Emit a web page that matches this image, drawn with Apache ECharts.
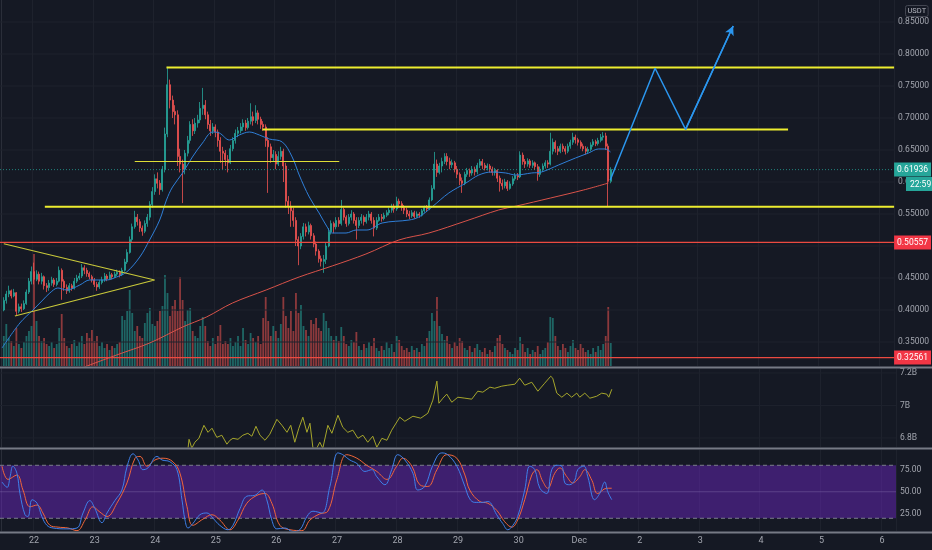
<!DOCTYPE html>
<html><head><meta charset="utf-8">
<script src="https://cdn.jsdelivr.net/npm/echarts@6/dist/echarts.min.js"></script>
<style>html,body{margin:0;padding:0;background:#151924;}#c{width:932px;height:550px;}</style>
</head><body><div id="c"></div>
<script>
// ---- time axis (hourly bars; index 0 = Nov 21 11:00) ----
const dayLabels = ['22','23','24','25','26','27','28','29','30','Dec','2','3','4','5','6'];
const firstDayIndex = 13;
const hoursPerDay = 24;
const categoryCount = 355;

// ---- candles (hourly), first candle at index 1 ----
const candleStart = 1;
const firstOpen = 0.400;
const candleClose = [
0.415,0.425,0.43,0.422,0.427,0.398,0.405,0.402,0.41,0.428,
0.445,0.46,0.448,0.456,0.445,0.452,0.438,0.435,0.442,0.447,
0.44,0.445,0.462,0.445,0.435,0.43,0.438,0.434,0.445,0.45,
0.453,0.466,0.462,0.457,0.452,0.447,0.44,0.436,0.443,0.447,
0.453,0.449,0.455,0.452,0.456,0.459,0.455,0.462,0.475,0.49,
0.51,0.53,0.545,0.538,0.528,0.523,0.535,0.545,0.565,0.585,
0.605,0.598,0.588,0.62,0.675,0.752,0.728,0.71,0.705,0.64,
0.628,0.62,0.645,0.665,0.69,0.68,0.692,0.697,0.715,0.72,
0.705,0.69,0.68,0.686,0.678,0.665,0.648,0.645,0.635,0.63,
0.652,0.665,0.676,0.68,0.686,0.692,0.685,0.695,0.702,0.696,
0.708,0.698,0.69,0.686,0.665,0.655,0.638,0.643,0.628,0.64,
0.648,0.625,0.57,0.562,0.555,0.54,0.51,0.5,0.515,0.53,
0.522,0.532,0.516,0.503,0.492,0.48,0.476,0.479,0.5,0.522,
0.535,0.53,0.54,0.535,0.557,0.545,0.535,0.545,0.55,0.54,
0.532,0.54,0.545,0.538,0.545,0.55,0.54,0.528,0.54,0.545,
0.543,0.548,0.552,0.556,0.562,0.558,0.57,0.566,0.56,0.556,
0.55,0.547,0.552,0.546,0.55,0.548,0.555,0.56,0.558,0.572,
0.59,0.628,0.615,0.625,0.632,0.64,0.632,0.627,0.63,0.62,
0.612,0.602,0.598,0.612,0.618,0.614,0.62,0.616,0.626,0.632,
0.626,0.622,0.625,0.62,0.615,0.618,0.606,0.598,0.594,0.6,
0.59,0.597,0.605,0.61,0.608,0.642,0.632,0.628,0.633,0.626,
0.63,0.624,0.612,0.62,0.625,0.63,0.628,0.648,0.662,0.652,
0.648,0.656,0.652,0.648,0.656,0.662,0.67,0.666,0.662,0.656,
0.652,0.648,0.651,0.658,0.663,0.66,0.665,0.67,0.672,0.656,
0.601,0.61936];
const candleHigh = [
0.42,0.43,0.438,0.432,0.433,0.428,0.41,0.41,0.415,0.432,
0.45,0.468,0.474,0.462,0.46,0.458,0.454,0.442,0.447,0.452,
0.45,0.45,0.468,0.465,0.448,0.44,0.442,0.441,0.45,0.455,
0.458,0.472,0.47,0.466,0.46,0.455,0.45,0.444,0.447,0.452,
0.458,0.456,0.46,0.458,0.46,0.463,0.462,0.466,0.48,0.495,
0.515,0.535,0.555,0.55,0.542,0.532,0.54,0.55,0.57,0.592,
0.612,0.615,0.603,0.625,0.685,0.78,0.76,0.735,0.72,0.712,
0.652,0.635,0.65,0.672,0.695,0.698,0.7,0.705,0.725,0.747,
0.728,0.71,0.697,0.692,0.69,0.682,0.67,0.655,0.65,0.642,
0.658,0.67,0.682,0.686,0.692,0.698,0.697,0.7,0.723,0.71,
0.72,0.712,0.702,0.695,0.69,0.67,0.66,0.65,0.648,0.648,
0.655,0.652,0.63,0.578,0.57,0.56,0.545,0.515,0.52,0.536,
0.535,0.538,0.535,0.52,0.507,0.495,0.485,0.486,0.505,0.528,
0.54,0.538,0.545,0.545,0.572,0.56,0.548,0.55,0.556,0.553,
0.545,0.545,0.55,0.548,0.55,0.555,0.553,0.545,0.545,0.55,
0.55,0.552,0.556,0.56,0.566,0.566,0.577,0.574,0.57,0.564,
0.56,0.555,0.556,0.555,0.554,0.553,0.558,0.563,0.564,0.576,
0.595,0.647,0.635,0.63,0.638,0.645,0.645,0.638,0.635,0.633,
0.625,0.615,0.607,0.616,0.622,0.621,0.625,0.624,0.63,0.636,
0.636,0.63,0.629,0.628,0.624,0.622,0.62,0.61,0.604,0.605,
0.603,0.601,0.609,0.614,0.614,0.648,0.646,0.636,0.637,0.636,
0.634,0.632,0.628,0.624,0.629,0.634,0.634,0.677,0.668,0.665,
0.656,0.66,0.66,0.656,0.66,0.666,0.677,0.674,0.669,0.665,
0.66,0.656,0.655,0.662,0.667,0.666,0.669,0.675,0.678,0.677,
0.66,0.623];
const candleLow = [
0.398,0.41,0.42,0.418,0.42,0.392,0.395,0.397,0.4,0.408,
0.425,0.44,0.44,0.445,0.44,0.44,0.432,0.428,0.43,0.438,
0.436,0.437,0.443,0.416,0.43,0.425,0.427,0.43,0.432,0.442,
0.447,0.45,0.456,0.452,0.448,0.443,0.436,0.43,0.433,0.44,
0.444,0.445,0.447,0.448,0.45,0.453,0.451,0.453,0.46,0.472,
0.488,0.505,0.527,0.532,0.522,0.516,0.52,0.53,0.54,0.56,
0.58,0.59,0.58,0.585,0.615,0.67,0.715,0.7,0.69,0.625,
0.615,0.567,0.612,0.64,0.66,0.672,0.675,0.685,0.692,0.705,
0.698,0.683,0.672,0.675,0.67,0.655,0.63,0.62,0.625,0.615,
0.628,0.648,0.66,0.67,0.676,0.68,0.68,0.682,0.69,0.688,
0.692,0.69,0.683,0.68,0.655,0.583,0.63,0.632,0.62,0.625,
0.635,0.6,0.56,0.55,0.53,0.53,0.5,0.47,0.495,0.51,
0.515,0.518,0.51,0.498,0.485,0.474,0.468,0.458,0.472,0.498,
0.518,0.52,0.526,0.53,0.532,0.54,0.53,0.532,0.54,0.535,
0.51,0.528,0.535,0.532,0.535,0.54,0.535,0.515,0.525,0.538,
0.538,0.54,0.545,0.548,0.552,0.552,0.555,0.56,0.555,0.55,
0.545,0.542,0.544,0.543,0.544,0.544,0.546,0.552,0.553,0.556,
0.57,0.588,0.608,0.612,0.615,0.628,0.626,0.62,0.622,0.615,
0.606,0.595,0.583,0.595,0.608,0.608,0.61,0.61,0.612,0.622,
0.62,0.618,0.618,0.615,0.61,0.61,0.6,0.585,0.588,0.59,
0.586,0.588,0.594,0.602,0.603,0.606,0.627,0.622,0.624,0.622,
0.622,0.619,0.602,0.608,0.616,0.621,0.622,0.626,0.643,0.646,
0.642,0.645,0.647,0.643,0.645,0.652,0.658,0.66,0.657,0.652,
0.648,0.643,0.645,0.648,0.655,0.656,0.657,0.662,0.665,0.65,
0.561,0.598];
const volume = [
30,42,28,25,20,38,22,18,24,30,
35,40,112,45,30,25,28,22,20,24,
18,22,38,52,28,20,18,22,26,20,
24,30,22,33,28,36,25,30,20,24,
18,22,16,20,18,22,24,50,46,55,
76,53,35,40,30,28,43,53,58,42,
40,45,55,60,91,73,50,60,66,55,
89,66,45,56,58,35,30,28,40,49,
40,25,20,28,22,30,41,22,25,22,
28,20,24,30,20,38,26,22,33,28,
24,30,22,48,69,45,30,40,35,28,
42,69,50,38,55,35,73,53,61,40,
36,30,46,42,48,38,35,53,45,38,
30,26,30,25,39,30,22,20,26,24,
34,20,16,22,18,24,20,28,18,15,
20,16,24,18,22,14,30,26,20,16,
18,14,20,16,18,14,22,20,28,35,
53,45,69,40,32,26,30,22,18,24,
20,28,25,18,16,20,14,18,22,16,
14,18,12,16,14,20,28,31,22,18,
16,14,12,18,16,29,22,14,18,12,
16,14,20,12,16,18,24,49,48,30,
20,16,22,18,14,20,26,18,16,22,
18,14,16,12,18,14,20,16,22,30,
59,23];
const volumeScaleMax = 366;

// ---- moving averages [hour index, price] ----
const maFast = [[0.3,0.3406],[7.4,0.3797],[12.6,0.40],[16.5,0.4156],[19.3,0.4266],[22.5,0.4344],[26.0,0.4313],[31.2,0.4391],[35.1,0.4469],[41.9,0.4469],[45.8,0.4516],[49.8,0.4594],[55.0,0.4828],[58.9,0.5094],[62.9,0.5406],[65.6,0.5719],[68.0,0.5922],[72.0,0.6141],[75.9,0.6391],[79.9,0.6609],[83.9,0.6781],[86.6,0.6766],[90.6,0.6656],[94.5,0.6734],[98.5,0.6781],[102.5,0.6734],[106.4,0.6672],[111.6,0.6625],[115.5,0.6391],[118.3,0.6109],[122.3,0.5766],[126.2,0.5516],[129.4,0.5297],[131.4,0.5203],[136.9,0.5203],[140.9,0.525],[145.2,0.525],[151.2,0.5359],[161.9,0.5406],[165.8,0.5453],[171.0,0.5609],[177.7,0.5828],[184.5,0.5984],[189.6,0.6109],[194.7,0.6156],[200.3,0.6141],[204.3,0.6109],[210.6,0.6141],[214.5,0.6156],[221.3,0.6266],[228.0,0.6375],[233.2,0.6453],[237.1,0.6516],[239.9,0.6516],[241.9,0.6469]];
const maSlow = [[31.0,0.308],[45.8,0.3297],[58.9,0.3484],[72.0,0.3734],[81.5,0.3891],[91.8,0.4109],[105.2,0.4313],[118.3,0.4516],[131.4,0.4688],[144.8,0.4875],[157.9,0.5094],[169.8,0.5203],[184.5,0.5391],[197.5,0.5563],[204.6,0.5625],[218.1,0.575],[231.2,0.5875],[241.1,0.5984]];

// ---- drawings [hour index, price] ----
const levelTop = [[65.6,0.779],[354.5,0.779]];
const levelMid = [[103.7,0.682],[312.4,0.682]];
const levelThin = [[53.0,0.632],[134.2,0.632]];
const levelBase = [[17.3,0.5615],[354.5,0.5615]];
const triangle = [[1.0,0.5035],[60.9,0.4469],[5.4,0.3906]];
const projection = [[241.8,0.603],[259.6,0.7777],[271.7,0.6823],[290.6,0.8437]];
const redLevels = [0.50557, 0.32561];
const lastPrice = 0.61936;
const countdown = '22:59';
const priceTicks = [0.35,0.40,0.45,0.50,0.55,0.60,0.65,0.70,0.75,0.80,0.85];

// ---- pane 2 indicator (billions) ----
const obvLine = [[74.0,6.737],[74.4,6.792],[75.5,6.737],[76.7,6.774],[78.3,6.798],[80.3,6.878],[81.9,6.835],[83.5,6.860],[85.4,6.804],[87.4,6.817],[89.4,6.762],[90.6,6.786],[91.8,6.798],[93.8,6.792],[95.7,6.817],[97.7,6.829],[99.3,6.811],[100.9,6.872],[102.5,6.817],[104.5,6.786],[106.4,6.823],[109.2,6.915],[111.2,6.878],[113.2,6.835],[114.7,6.878],[116.3,6.774],[117.9,6.860],[119.5,6.928],[121.1,6.835],[122.3,6.891],[123.5,6.737],[125.0,6.737],[126.2,6.774],[127.4,6.737],[129.4,6.878],[131.0,6.829],[133.4,6.940],[135.3,6.866],[137.3,6.835],[139.3,6.848],[141.3,6.798],[143.3,6.817],[145.2,6.774],[147.2,6.811],[148.8,6.743],[150.8,6.798],[152.8,6.786],[154.7,6.848],[157.9,6.928],[159.9,6.903],[163.1,6.934],[166.2,6.922],[169.0,6.952],[171.0,7.033],[172.6,7.150],[173.4,7.014],[175.0,7.045],[176.5,7.070],[178.5,7.020],[180.9,7.051],[183.7,7.045],[186.4,7.039],[188.8,7.088],[190.8,7.082],[193.6,7.113],[195.5,7.106],[198.3,7.119],[200.7,7.125],[203.5,7.131],[205.4,7.168],[207.4,7.125],[210.2,7.143],[212.6,7.088],[215.3,7.137],[217.7,7.180],[218.5,7.168],[220.1,7.076],[222.1,7.051],[224.1,7.076],[226.0,7.051],[228.0,7.076],[229.2,7.051],[231.2,7.076],[233.2,7.045],[235.9,7.057],[237.9,7.076],[239.9,7.070],[240.7,7.051],[241.9,7.100]];
const obvTicks = [6.8, 7.0, 7.2];

// ---- pane 3 stochastic RSI ----
const stochK = [[0.3,61],[2.3,55],[3.5,67],[4.6,79],[6.2,71],[7.4,48],[9.4,24],[10.6,22],[12.2,41],[14.2,37],[16.1,22],[18.1,12],[20.5,9],[26.0,8],[30.0,9],[32.4,26],[35.1,40],[37.1,31],[39.9,15],[41.9,26],[45.0,40],[47.8,52],[49.8,78],[52.2,93],[54.2,86],[56.1,75],[58.1,77],[61.7,90],[63.7,86],[66.8,84],[69.6,75],[71.6,41],[72.8,18],[74.0,9],[75.9,14],[78.7,24],[81.5,26],[83.9,20],[86.6,12],[89.8,7],[91.8,12],[94.6,31],[97.3,45],[100.5,46],[103.3,52],[105.2,41],[107.2,18],[109.2,8],[112.4,9],[115.5,5],[118.3,7],[121.1,22],[123.5,28],[127.0,26],[130.2,56],[133.4,94],[135.3,92],[138.1,86],[140.9,82],[144.1,73],[146.8,75],[148.8,67],[152.0,58],[154.7,75],[157.1,92],[159.9,86],[163.1,71],[165.0,52],[167.8,56],[171.0,80],[174.5,94],[176.9,92],[180.5,79],[183.7,56],[185.6,42],[187.6,38],[190.8,38],[192.8,39],[196.3,24],[198.7,14],[200.7,7],[202.7,12],[204.6,22],[207.4,52],[209.4,79],[211.4,75],[213.4,54],[216.1,48],[218.1,75],[220.1,80],[222.1,79],[223.3,60],[225.2,58],[227.2,63],[228.4,75],[230.8,79],[232.4,67],[235.1,41],[237.1,48],[239.1,61],[240.3,50],[241.9,41]];
const stochD = [[0.3,79],[2.7,64],[6.2,69],[8.6,52],[11.4,33],[14.2,35],[16.5,26],[19.3,12],[22.5,10],[26.4,9],[30.0,6],[33.2,18],[36.3,33],[39.1,27],[41.9,22],[45.8,37],[49.8,60],[53.0,88],[55.0,90],[57.7,79],[60.9,86],[64.1,88],[68.0,84],[70.8,71],[73.6,33],[75.9,12],[79.9,19],[83.5,24],[86.6,18],[90.6,7],[93.8,18],[97.3,37],[101.3,46],[104.5,48],[107.2,37],[110.4,12],[114.4,7],[119.1,6],[122.3,18],[126.2,25],[129.4,28],[133.0,64],[136.9,92],[140.9,88],[144.8,80],[148.8,73],[152.8,64],[156.7,79],[159.1,88],[162.7,79],[165.8,58],[169.0,56],[172.6,75],[176.5,92],[180.5,88],[183.7,69],[185.6,52],[189.6,39],[192.8,37],[196.3,29],[199.5,16],[202.3,10],[204.6,18],[207.4,41],[210.2,69],[212.2,75],[214.5,62],[216.5,54],[219.3,71],[221.3,77],[224.1,67],[226.4,60],[229.2,67],[231.2,75],[234.0,63],[236.3,48],[239.9,54],[241.9,54]];
const stochTicks = [25, 50, 75];
const stochBand = [20, 80];

// ================= build =================
const UP = '#26a69a', DOWN = '#ef5350';
const UP_VOL = 'rgba(38,166,154,0.55)', DOWN_VOL = 'rgba(239,83,80,0.55)';
const TXT = '#a3a6af', GRIDC = '#1e222d';
const FONT = 'Roboto, "Liberation Sans", sans-serif';
const X_MIN = -0.5, X_MAX = categoryCount - 0.5;

const categories = [];
for (let i = 0; i < categoryCount; i++) {
  const d = i - firstDayIndex;
  categories.push(d >= 0 && d % hoursPerDay === 0 ? dayLabels[d / hoursPerDay] : '');
}
const candleData = categories.map(() => '-');
const volumeData = categories.map(() => '-');
let prev = firstOpen;
for (let k = 0; k < candleClose.length; k++) {
  const o = prev, c = candleClose[k];
  const h = Math.max(candleHigh[k], o, c), l = Math.min(candleLow[k], o, c);
  candleData[candleStart + k] = [o, c, l, h];
  volumeData[candleStart + k] = { value: volume[k], itemStyle: { color: c >= o ? UP_VOL : DOWN_VOL } };
  prev = c;
}

const catAxis = (gridIndex, showLabel) => ({
  type: 'category', gridIndex, data: categories, boundaryGap: true,
  axisLine: { show: false }, axisTick: { show: false },
  axisLabel: { show: showLabel, interval: (i, v) => v !== '', color: TXT, fontSize: 9, fontFamily: FONT, margin: 5 },
  splitLine: { show: true, interval: (i, v) => v !== '', lineStyle: { color: GRIDC, width: 1 } }
});
const valAxis = (gridIndex) => ({ type: 'value', gridIndex, min: X_MIN, max: X_MAX, show: false });

// full-width horizontal line series (in data units) with optional price tag at its right end
const hLine = (xAxisIndex, yAxisIndex, value, color, type, tagBg, z, width) => ({
  type: 'line', xAxisIndex, yAxisIndex, silent: true, symbol: 'none', z: z || 2,
  data: [[X_MIN, value], [X_MAX, value]],
  itemStyle: { color },
  lineStyle: { color, width: width || 1, type: type || 'solid' },
  endLabel: tagBg ? {
    show: true, distance: 0, color: '#ffffff', backgroundColor: tagBg,
    padding: [3, 3, 2, 3], fontSize: 8.5, fontFamily: FONT,
    formatter: () => value.toFixed(5)
  } : { show: false }
});

const levelSeries = (data, color, width) => ({
  type: 'line', xAxisIndex: 1, yAxisIndex: 0, data, symbol: 'none', silent: true,
  itemStyle: { color }, lineStyle: { color, width }, z: 4
});

const series = [
  // grid lines
  ...priceTicks.map(v => hLine(1, 0, v, GRIDC, 'solid', null, 0)),
  ...obvTicks.map(v => hLine(3, 2, v, GRIDC, 'solid', null, 0)),
  { type: 'bar', name: 'Volume', xAxisIndex: 0, yAxisIndex: 1, data: volumeData, barWidth: '72%', silent: true, z: 1 },
  { type: 'candlestick', name: 'Price', xAxisIndex: 0, yAxisIndex: 0, data: candleData, barWidth: 1.5, silent: true, z: 3,
    itemStyle: { color: UP, color0: DOWN, borderColor: UP, borderColor0: DOWN, borderWidth: 0.8 } },
  { type: 'line', name: 'MA fast', xAxisIndex: 1, yAxisIndex: 0, data: maFast, symbol: 'none', smooth: 0.35, silent: true, z: 4,
    lineStyle: { color: '#2f7fd8', width: 1 } },
  { type: 'line', name: 'MA slow', xAxisIndex: 1, yAxisIndex: 0, data: maSlow, symbol: 'none', smooth: 0.35, silent: true, z: 4,
    lineStyle: { color: '#d9534a', width: 1 } },
  ...redLevels.map(v => hLine(1, 0, v, '#ec4a40', 'solid', '#f23645', 6, 1.2)),
  hLine(1, 0, lastPrice, 'rgba(38,166,154,0.75)', [1, 2], '#26a69a', 6),
  levelSeries(levelTop, '#eded2f', 2),
  levelSeries(levelMid, '#eded2f', 2),
  levelSeries(levelThin, '#dede36', 1.2),
  levelSeries(levelBase, '#eded2f', 2),
  levelSeries(triangle, '#c9c93a', 1.2),
  { type: 'line', name: 'Projection', xAxisIndex: 1, yAxisIndex: 0, data: projection, symbol: 'none', silent: true, z: 5,
    lineStyle: { color: '#2b96ee', width: 1.5 },
    markLine: { silent: true, symbol: ['none', 'arrow'], symbolSize: [7, 9], animation: false,
      lineStyle: { color: '#2b96ee', width: 1.5, type: 'solid' }, label: { show: false },
      data: [[{ coord: projection[projection.length - 2] }, { coord: projection[projection.length - 1] }]] } },
  { type: 'line', name: 'OBV', xAxisIndex: 3, yAxisIndex: 2, data: obvLine, symbol: 'none', silent: true,
    lineStyle: { color: '#a6a62c', width: 1 } },
  hLine(5, 3, stochBand[1], '#7b7e8a', [4, 3], null, 3),
  hLine(5, 3, 50, 'rgba(150,130,190,0.35)', 'solid', null, 3),
  hLine(5, 3, stochBand[0], '#7b7e8a', [4, 3], null, 3),
  { type: 'line', name: '%D', xAxisIndex: 5, yAxisIndex: 3, data: stochD, symbol: 'none', smooth: 0.4, silent: true, z: 4,
    lineStyle: { color: '#f0663a', width: 1 } },
  { type: 'line', name: '%K', xAxisIndex: 5, yAxisIndex: 3, data: stochK, symbol: 'none', smooth: 0.4, silent: true, z: 5,
    lineStyle: { color: '#3f80ea', width: 1 },
    markArea: { silent: true, itemStyle: { color: 'rgba(112,40,205,0.45)' },
      data: [[{ yAxis: stochBand[0] }, { yAxis: stochBand[1] }]] } }
];

const option = {
  backgroundColor: '#151924',
  animation: false,
  grid: [
    { left: 0, top: 0, width: 896, height: 366 },
    { left: 0, top: 369, width: 896, height: 78 },
    { left: 0, top: 450, width: 896, height: 81 }
  ],
  xAxis: [catAxis(0, false), valAxis(0), catAxis(1, false), valAxis(1), catAxis(2, true), valAxis(2)],
  yAxis: [
    { type: 'value', gridIndex: 0, position: 'right', min: 0.3125, max: 0.884375, scale: true,
      axisLine: { show: true, lineStyle: { color: '#2a2e39' } }, axisTick: { show: false }, splitLine: { show: false },
      axisLabel: { customValues: priceTicks, formatter: v => v.toFixed(5), color: TXT, fontSize: 8.5, fontFamily: FONT, margin: 4 } },
    { type: 'value', gridIndex: 0, min: 0, max: volumeScaleMax, show: false },
    { type: 'value', gridIndex: 1, position: 'right', min: 6.7446, max: 7.2246, scale: true,
      axisLine: { show: true, lineStyle: { color: '#2a2e39' } }, axisTick: { show: false }, splitLine: { show: false },
      axisLabel: { customValues: obvTicks, formatter: v => (Math.round(v * 10) / 10) + 'B', color: TXT, fontSize: 8.5, fontFamily: FONT, margin: 4 } },
    { type: 'value', gridIndex: 2, position: 'right', min: 5.6, max: 97.3,
      axisLine: { show: true, lineStyle: { color: '#2a2e39' } }, axisTick: { show: false }, splitLine: { show: false },
      axisLabel: { customValues: stochTicks, formatter: v => v.toFixed(2), color: TXT, fontSize: 8.5, fontFamily: FONT, margin: 4 } }
  ],
  series,
  graphic: [
    { type: 'line', z: 100, shape: { x1: 0, y1: 367.5, x2: 932, y2: 367.5 }, style: { stroke: '#767a85', lineWidth: 2 } },
    { type: 'line', z: 100, shape: { x1: 0, y1: 448.5, x2: 932, y2: 448.5 }, style: { stroke: '#767a85', lineWidth: 2 } },
    { type: 'line', z: 100, shape: { x1: 0, y1: 532.5, x2: 932, y2: 532.5 }, style: { stroke: '#767a85', lineWidth: 2 } },
    { type: 'text', z: 100, left: 905, top: 5,
      style: { text: 'USDT', fill: '#b2b5be', fontSize: 7.5, fontFamily: FONT, borderColor: '#434651', borderWidth: 1, borderRadius: 2, padding: [2, 2, 1, 2] } },
    { type: 'text', z: 100, left: 906, top: 177,
      style: { text: countdown, fill: '#ffffff', fontSize: 8.5, fontFamily: FONT, backgroundColor: '#26a69a', padding: [3, 4, 2, 4] } }
  ]
};

const chart = echarts.init(document.getElementById('c'));
chart.setOption(option);
</script>
</body></html>
